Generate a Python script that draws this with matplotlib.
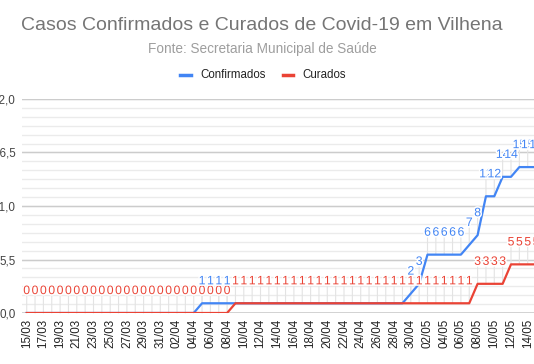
import matplotlib
matplotlib.use('Agg')
import matplotlib.pyplot as plt
import matplotlib.patheffects as pe
from matplotlib.lines import Line2D
import numpy as np

plt.rcParams['font.family'] = ['Liberation Sans', 'DejaVu Sans']

dates = ['15/03', '16/03', '17/03', '18/03', '19/03', '20/03', '21/03', '22/03', '23/03', '24/03',
         '25/03', '26/03', '27/03', '28/03', '29/03', '30/03', '31/03', '01/04', '02/04', '03/04',
         '04/04', '05/04', '06/04', '07/04', '08/04', '09/04', '10/04', '11/04', '12/04', '13/04',
         '14/04', '15/04', '16/04', '17/04', '18/04', '19/04', '20/04', '21/04', '22/04', '23/04',
         '24/04', '25/04', '26/04', '27/04', '28/04', '29/04', '30/04', '01/05', '02/05', '03/05',
         '04/05', '05/05', '06/05', '07/05', '08/05', '09/05', '10/05', '11/05', '12/05', '13/05',
         '14/05', '15/05']

confirmados = [0, 0, 0, 0, 0, 0, 0, 0, 0, 0,
               0, 0, 0, 0, 0, 0, 0, 0, 0, 0,
               0, 1, 1, 1, 1, 1, 1, 1, 1, 1,
               1, 1, 1, 1, 1, 1, 1, 1, 1, 1,
               1, 1, 1, 1, 1, 1, 2, 3, 6, 6,
               6, 6, 6, 7, 8, 12, 12, 14, 14, 15,
               15, 15]

curados = [0, 0, 0, 0, 0, 0, 0, 0, 0, 0,
           0, 0, 0, 0, 0, 0, 0, 0, 0, 0,
           0, 0, 0, 0, 0, 1, 1, 1, 1, 1,
           1, 1, 1, 1, 1, 1, 1, 1, 1, 1,
           1, 1, 1, 1, 1, 1, 1, 1, 1, 1,
           1, 1, 1, 1, 3, 3, 3, 3, 5, 5,
           5, 5]

y_ticks = [0, 5.5, 11, 16.5, 22]
y_tick_labels = ['0,0', '5,5', '11,0', '16,5', '22,0']

title = 'Casos Confirmados e Curados de Covid-19 em Vilhena'
subtitle = 'Fonte: Secretaria Municipal de Saúde'

BLUE = '#4285F4'
RED = '#EA4335'

W, H = 534, 364
fig = plt.figure(figsize=(W / 100, H / 100), dpi=100)

px_day = 8.35
x0_px = 26.7
xl, xr = -0.6, 61.5
left_px = x0_px + xl * px_day
right_px = x0_px + xr * px_day
bottom_px, top_px = 313, 99
ax = fig.add_axes([left_px / W, 1 - bottom_px / H, (right_px - left_px) / W, (bottom_px - top_px) / H])
ax.set_xlim(xl, xr)
ax.set_ylim(0, 22)

x = np.arange(len(dates))

# gridlines
minor = np.arange(0, 22.0001, 5.5 / 6)
for v in minor:
    ax.axhline(v, color='#ebebeb', lw=1, zorder=0)
for v in y_ticks[1:]:
    ax.axhline(v, color='#cccccc', lw=1, zorder=0.5)

for s in ax.spines.values():
    s.set_visible(False)
ax.axhline(0, color='#333333', lw=1, zorder=1)

ax.set_yticks(y_ticks)
ax.set_yticklabels(y_tick_labels)
ax.set_xticks(x[::2])
ax.set_xticklabels(dates[::2], rotation=90)
ax.tick_params(axis='both', length=0, labelsize=8.4, labelcolor='#222222')
ax.tick_params(axis='x', pad=4)
ax.tick_params(axis='y', pad=4.5, labelcolor='#444444')

ax.plot(x, confirmados, color=BLUE, lw=1.6, zorder=3, solid_joinstyle='round')
ax.plot(x, curados, color=RED, lw=1.6, zorder=4, solid_joinstyle='round')

halo = [pe.withStroke(linewidth=2.2, foreground='white')]

def annotate(i, v, color, z):
    ax.annotate('', xy=(i, v), xytext=(0, 12.2), textcoords='offset points',
                arrowprops=dict(arrowstyle='-', color='#e3e3e3', lw=0.8, shrinkA=0, shrinkB=0),
                zorder=2)
    ax.annotate(str(v), xy=(i, v), xytext=(0, 15.8), textcoords='offset points',
                ha='center', va='center', fontsize=8.8, color=color,
                path_effects=halo, zorder=z, annotation_clip=False)

for i, v in enumerate(curados):
    annotate(i, v, RED, 5)
for i, (v, c) in enumerate(zip(confirmados, curados)):
    if v != c:
        annotate(i, v, BLUE, 6)

fig.text(262 / W, 1 - 25 / H, title, ha='center', va='center', fontsize=14, color='#757575')
fig.text(262 / W, 1 - 49 / H, subtitle, ha='center', va='center', fontsize=9.8, color='#9e9e9e')

ly = 1 - 75 / H
fig.add_artist(Line2D([180 / W, 191 / W], [ly, ly], color=BLUE, lw=2.5, transform=fig.transFigure))
fig.text(200 / W, ly, 'Confirmados', ha='left', va='center', fontsize=8.3, color='#222222')
fig.add_artist(Line2D([283 / W, 293 / W], [ly, ly], color=RED, lw=2.5, transform=fig.transFigure))
fig.text(302 / W, ly, 'Curados', ha='left', va='center', fontsize=8.3, color='#222222')

fig.savefig('out.png', dpi=100)
